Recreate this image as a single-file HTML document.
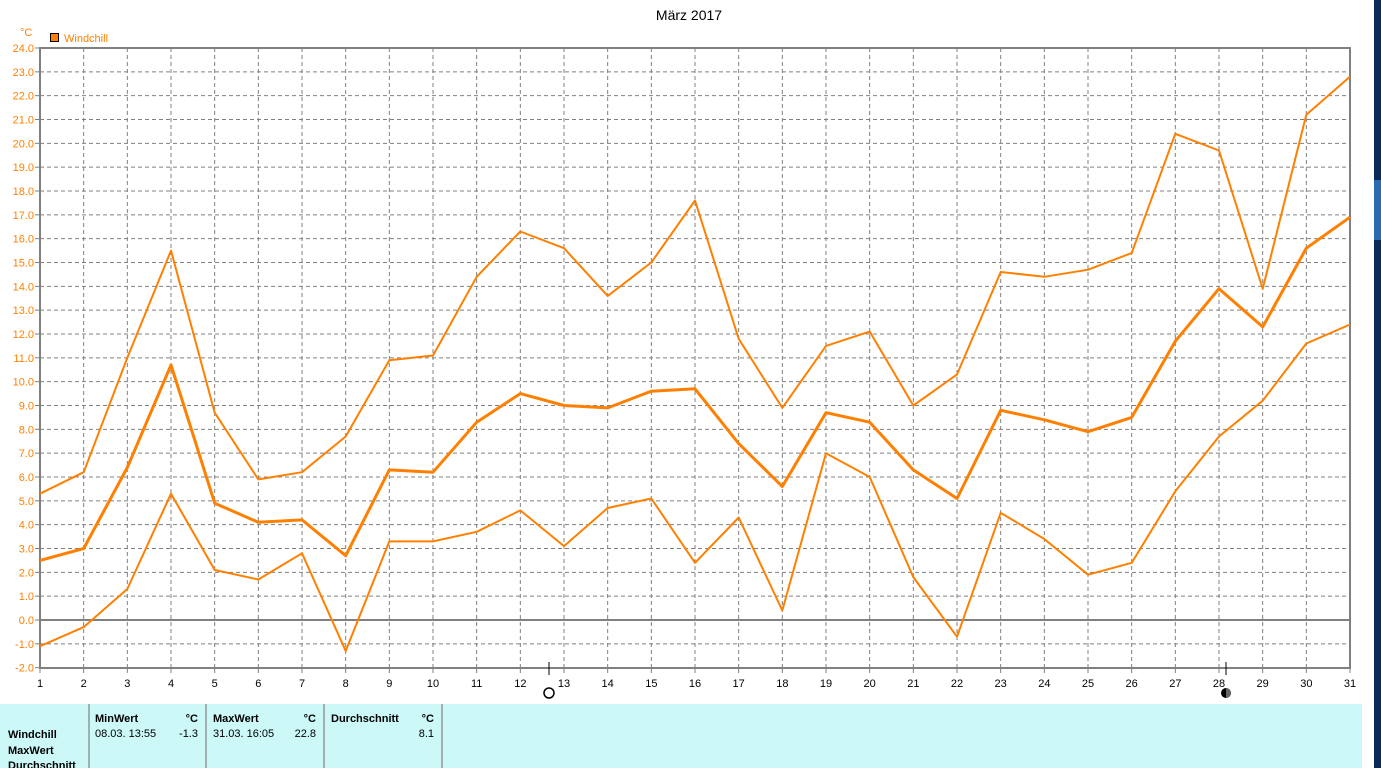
<!DOCTYPE html>
<html><head><meta charset="utf-8"><style>
body{margin:0;width:1381px;height:768px;overflow:hidden;background:#fff;font-family:"Liberation Sans",sans-serif;}
svg{position:absolute;left:0;top:0}
</style></head><body>
<svg id="s" width="1381" height="768" xmlns="http://www.w3.org/2000/svg"></svg>
<script>
const s=document.getElementById('s');
let h='';
const X=d=>40+(d-1)*(1310/30), Y=v=>620-v*23.833;
h+='<rect x="1362" y="0" width="19" height="768" fill="#0a2a5a"/>';
h+='<rect x="1362" y="0" width="12" height="768" fill="#fff"/>';
h+='<rect x="1374" y="180" width="7" height="60" fill="#2a6ab0"/>';
h+='<text x="689" y="20" font-size="14" text-anchor="middle" fill="#000">März 2017</text>';
h+='<text x="20" y="36" font-size="11" fill="#ff8000">°C</text>';
h+='<rect x="50.5" y="33.5" width="8" height="8" fill="#ff8000" stroke="#000"/>';
h+='<text x="64" y="42" font-size="11" fill="#ff8000">Windchill</text>';
for(let v=-2;v<=24;v++){const y=Y(v);
 if(v>-2&&v<24&&v!=0)h+=`<line x1="40" x2="1350" y1="${y}" y2="${y}" stroke="#808080" stroke-dasharray="4,3"/>`;
 h+=`<line x1="35" x2="40" y1="${y}" y2="${y}" stroke="#808080"/>`;
 h+=`<text x="34" y="${y+4}" font-size="11" text-anchor="end" fill="#ff8000">${v.toFixed(1)}</text>`;}
for(let d=1;d<=31;d++){const x=X(d);
 if(d>1&&d<31)h+=`<line x1="${x}" x2="${x}" y1="48" y2="668" stroke="#808080" stroke-dasharray="4,3"/>`;
 h+=`<line x1="${x}" x2="${x}" y1="668" y2="673" stroke="#808080"/>`;
 h+=`<text x="${x}" y="687" font-size="11" text-anchor="middle" fill="#000">${d}</text>`;}
h+=`<line x1="40" x2="1350" y1="${Y(0)}" y2="${Y(0)}" stroke="#808080" stroke-width="2"/>`;
h+='<rect x="40" y="48" width="1310" height="620" fill="none" stroke="#808080" stroke-width="2"/>';
const U=[5.3,6.2,11.0,15.5,8.7,5.9,6.2,7.7,10.9,11.1,14.4,16.3,15.6,13.6,15.0,17.6,11.8,8.9,11.5,12.1,9.0,10.3,14.6,14.4,14.7,15.4,20.4,19.7,13.9,21.2,22.8];
const M=[2.5,3.0,6.4,10.7,4.9,4.1,4.2,2.7,6.3,6.2,8.3,9.5,9.0,8.9,9.6,9.7,7.4,5.6,8.7,8.3,6.3,5.1,8.8,8.4,7.9,8.5,11.7,13.9,12.3,15.6,16.9];
const L=[-1.1,-0.3,1.3,5.3,2.1,1.7,2.8,-1.3,3.3,3.3,3.7,4.6,3.1,4.7,5.1,2.4,4.3,0.4,7.0,6.0,1.8,-0.7,4.5,3.4,1.9,2.4,5.4,7.7,9.2,11.6,12.4];
const pl=(a,w)=>`<polyline fill="none" stroke="#ff8000" stroke-width="${w}" stroke-linejoin="round" points="${a.map((v,i)=>X(i+1).toFixed(1)+','+Y(v).toFixed(1)).join(' ')}"/>`;
h+=pl(U,2)+pl(M,3)+pl(L,2);
h+='<line x1="549" x2="549" y1="662" y2="675" stroke="#000"/><circle cx="549" cy="693" r="5" fill="#fff" stroke="#000" stroke-width="1.5"/>';
h+='<line x1="1226" x2="1226" y1="662" y2="675" stroke="#000"/><circle cx="1226" cy="693" r="5" fill="#000"/><path d="M1226 688 a5 5 0 0 1 0 10z" fill="#666"/>';
h+='<rect x="0" y="704" width="1362" height="64" fill="#ccf8f8"/>';
[88,205,323,441].forEach(x=>h+=`<rect x="${x}" y="704" width="2" height="64" fill="#a0b0b0"/>`);
const b='font-size="11" font-weight="bold" fill="#000"',n='font-size="11" fill="#000"';
h+=`<text x="8" y="738" ${b}>Windchill</text><text x="8" y="754" ${b}>MaxWert</text><text x="8" y="769" ${b}>Durchschnitt</text>`;
h+=`<text x="95" y="722" ${b}>MinWert</text><text x="198" y="722" ${b} text-anchor="end">°C</text>`;
h+=`<text x="95" y="737" ${n}>08.03.  13:55</text><text x="198" y="737" ${n} text-anchor="end">-1.3</text>`;
h+=`<text x="213" y="722" ${b}>MaxWert</text><text x="316" y="722" ${b} text-anchor="end">°C</text>`;
h+=`<text x="213" y="737" ${n}>31.03.  16:05</text><text x="316" y="737" ${n} text-anchor="end">22.8</text>`;
h+=`<text x="331" y="722" ${b}>Durchschnitt</text><text x="434" y="722" ${b} text-anchor="end">°C</text>`;
h+=`<text x="434" y="737" ${n} text-anchor="end">8.1</text>`;
s.innerHTML=h;
</script>
</body></html>
